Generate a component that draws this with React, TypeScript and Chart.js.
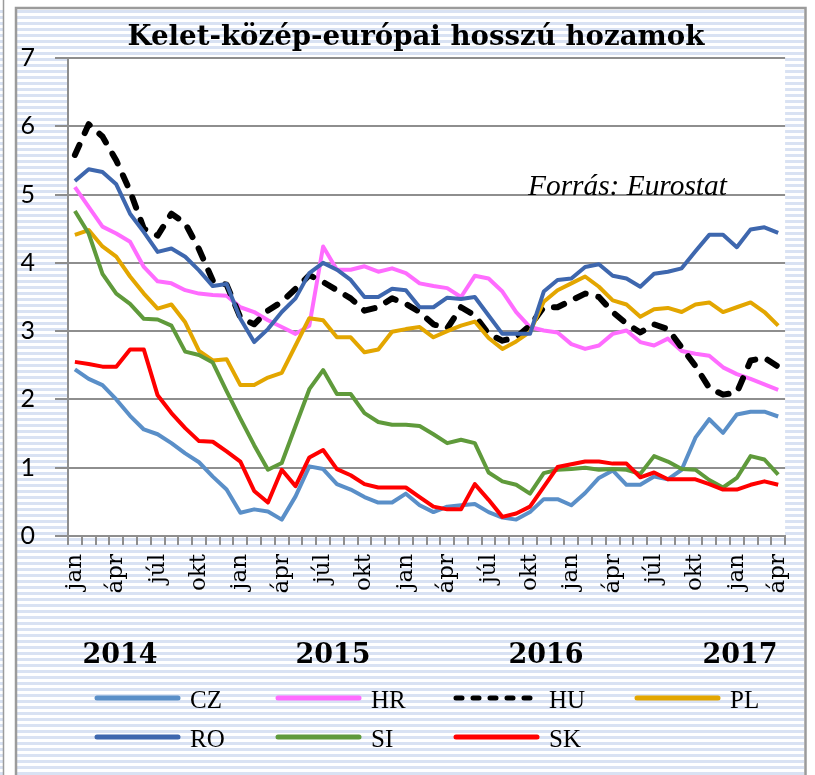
import React, { useEffect, useRef } from "react";
import { Chart, registerables } from "chart.js";

Chart.register(...registerables);

// ---------- data ----------
const monthNames = ["jan", "febr", "márc", "ápr", "máj", "jún", "júl", "aug", "szept", "okt", "nov", "dec"];
const monthCount = 52; // 2014 jan .. 2018 ápr
const categories: string[] = [];
for (let i = 0; i < monthCount; i++) categories.push(monthNames[i % 12]);

const yearLabels = ["2014", "2015", "2016", "2017"];
const yTicks = [0, 1, 2, 3, 4, 5, 6, 7];

const CZ = [2.44, 2.30, 2.21, 2.00, 1.76, 1.56, 1.49, 1.36, 1.21, 1.08, 0.87, 0.68,
  0.34, 0.39, 0.36, 0.24, 0.58, 1.02, 0.98, 0.76, 0.68, 0.57, 0.49, 0.49,
  0.62, 0.45, 0.35, 0.43, 0.45, 0.47, 0.35, 0.27, 0.24, 0.35, 0.54, 0.54,
  0.45, 0.63, 0.85, 0.96, 0.75, 0.75, 0.87, 0.83, 0.97, 1.44, 1.71, 1.51,
  1.78, 1.82, 1.82, 1.75];
const HR = [5.11, 4.82, 4.53, 4.43, 4.31, 3.94, 3.73, 3.70, 3.60, 3.55, 3.53, 3.52,
  3.35, 3.28, 3.16, 3.06, 2.96, 3.08, 4.24, 3.90, 3.90, 3.95, 3.87, 3.92,
  3.85, 3.70, 3.66, 3.63, 3.50, 3.81, 3.77, 3.58, 3.28, 3.06, 3.01, 2.98,
  2.81, 2.74, 2.79, 2.96, 3.01, 2.84, 2.79, 2.89, 2.71, 2.67, 2.64, 2.47,
  2.37, 2.30, 2.22, 2.14];
const HU = [5.58, 6.03, 5.85, 5.50, 5.05, 4.50, 4.40, 4.72, 4.58, 4.20, 3.74, 3.68,
  3.20, 3.10, 3.30, 3.43, 3.62, 3.82, 3.72, 3.60, 3.48, 3.30, 3.35, 3.48,
  3.40, 3.28, 3.10, 3.04, 3.35, 3.23, 2.96, 2.86, 2.91, 3.08, 3.35, 3.35,
  3.45, 3.55, 3.50, 3.28, 3.11, 2.98, 3.10, 3.03, 2.76, 2.49, 2.17, 2.07,
  2.10, 2.57, 2.61, 2.48];
const PL = [4.41, 4.48, 4.24, 4.09, 3.80, 3.55, 3.33, 3.39, 3.13, 2.71, 2.57, 2.59,
  2.21, 2.21, 2.32, 2.39, 2.79, 3.19, 3.16, 2.91, 2.91, 2.69, 2.73, 2.99,
  3.03, 3.06, 2.91, 3.00, 3.08, 3.14, 2.90, 2.74, 2.85, 2.99, 3.43, 3.60,
  3.70, 3.80, 3.65, 3.45, 3.39, 3.21, 3.32, 3.34, 3.28, 3.39, 3.42, 3.28,
  3.35, 3.42, 3.28, 3.08];
const RO = [5.20, 5.37, 5.33, 5.15, 4.72, 4.45, 4.16, 4.21, 4.09, 3.89, 3.66, 3.69,
  3.18, 2.84, 3.03, 3.28, 3.48, 3.85, 4.00, 3.90, 3.75, 3.50, 3.50, 3.62,
  3.60, 3.35, 3.35, 3.49, 3.47, 3.50, 3.23, 2.96, 2.96, 2.96, 3.58, 3.75,
  3.77, 3.94, 3.98, 3.81, 3.77, 3.65, 3.84, 3.87, 3.92, 4.17, 4.41, 4.41,
  4.23, 4.49, 4.52, 4.44];
const SI = [4.76, 4.43, 3.84, 3.55, 3.40, 3.18, 3.17, 3.08, 2.70, 2.65, 2.54, 2.12,
  1.72, 1.33, 0.97, 1.07, 1.61, 2.15, 2.43, 2.08, 2.08, 1.80, 1.67, 1.63,
  1.63, 1.61, 1.49, 1.36, 1.41, 1.36, 0.93, 0.80, 0.75, 0.62, 0.92, 0.97,
  0.98, 1.00, 0.97, 0.98, 0.97, 0.91, 1.17, 1.09, 0.98, 0.97, 0.82, 0.71,
  0.85, 1.17, 1.12, 0.90];
const SK = [2.55, 2.52, 2.48, 2.48, 2.73, 2.73, 2.06, 1.80, 1.58, 1.39, 1.38, 1.24,
  1.09, 0.66, 0.49, 0.97, 0.73, 1.15, 1.26, 0.98, 0.89, 0.76, 0.71, 0.71,
  0.71, 0.57, 0.43, 0.39, 0.39, 0.76, 0.53, 0.28, 0.33, 0.43, 0.72, 1.01,
  1.05, 1.09, 1.09, 1.06, 1.06, 0.86, 0.93, 0.83, 0.83, 0.83, 0.76, 0.68,
  0.68, 0.75, 0.80, 0.75];

const seriesNames = ["CZ", "HR", "HU", "PL", "RO", "SI", "SK"];
const seriesValues = [CZ, HR, HU, PL, RO, SI, SK];
const seriesColors = ["#5a8fc8", "#ff6cff", "#000000", "#e3a600", "#3e67ae", "#5f9a3b", "#ff0000"];

const titleText = "Kelet-közép-európai hosszú hozamok";
const sourceText = "Forrás: Eurostat";

// ---------- drawing helpers ----------
const GRID = "#8e8e8e";
const STRIPE = "#d9e2f3";
const FRAME = "#9b9b9b";

function fitFont(ctx: CanvasRenderingContext2D, text: string, style: string, family: string, width: number) {
  ctx.font = `${style} 100px ${family}`;
  const w = ctx.measureText(text).width;
  return (100 * width) / w;
}

const decorPlugin = {
  id: "decor",
  beforeDraw(chart: any) {
    const ctx: CanvasRenderingContext2D = chart.ctx;
    const W = chart.width;
    const H = chart.height;
    ctx.save();
    ctx.fillStyle = "#ffffff";
    ctx.fillRect(0, 0, W, H);
    ctx.fillStyle = STRIPE;
    for (let y = 10; y < H; y += 6) {
      ctx.fillRect(17, y, 787, 3);
      ctx.fillRect(0, y, 3, 3);
    }
    const a = chart.chartArea;
    ctx.fillStyle = "#ffffff";
    ctx.fillRect(a.left, a.top, a.right - a.left, a.bottom - a.top);
    ctx.strokeStyle = FRAME;
    ctx.lineWidth = 2.5;
    ctx.beginPath();
    ctx.moveTo(16, H);
    ctx.lineTo(16, 8);
    ctx.lineTo(805.5, 8);
    ctx.lineTo(805.5, H);
    ctx.stroke();
    ctx.lineWidth = 1.5;
    ctx.beginPath();
    ctx.moveTo(3.5, 0);
    ctx.lineTo(3.5, H);
    ctx.stroke();
    ctx.restore();
  },
  afterDraw(chart: any) {
    const ctx: CanvasRenderingContext2D = chart.ctx;
    ctx.save();
    // title
    const tSize = fitFont(ctx, titleText, "bold", '"DejaVu Serif"', 577);
    ctx.font = `bold ${tSize}px "DejaVu Serif"`;
    ctx.fillStyle = "#000";
    ctx.textAlign = "center";
    ctx.textBaseline = "alphabetic";
    ctx.fillText(titleText, 416, 45);
    // source
    const sSize = fitFont(ctx, sourceText, "italic", '"Liberation Serif"', 199);
    ctx.font = `italic ${sSize}px "Liberation Serif"`;
    ctx.textAlign = "left";
    ctx.fillText(sourceText, 528, 195);
    // years
    const yearCenters = [120, 333, 546, 740];
    ctx.font = 'bold 27px "DejaVu Serif"';
    ctx.textAlign = "center";
    yearLabels.forEach((t, i) => ctx.fillText(t, yearCenters[i], 663));
    // legend
    const cols = [94, 275, 453, 634];
    const rows = [698, 737];
    chart.data.datasets.forEach((ds: any, i: number) => {
      const x0 = cols[i % 4];
      const y = rows[Math.floor(i / 4)];
      ctx.strokeStyle = ds.borderColor;
      ctx.lineWidth = 5;
      ctx.lineCap = "round";
      ctx.setLineDash(ds.borderDash && ds.borderDash.length ? [6, 11] : []);
      ctx.beginPath();
      ctx.moveTo(x0 + 3, y);
      ctx.lineTo(x0 + 84, y);
      ctx.stroke();
      ctx.setLineDash([]);
      ctx.fillStyle = "#000";
      ctx.font = '25px "Liberation Serif"';
      ctx.textAlign = "left";
      ctx.fillText(ds.label, x0 + 96, y + 10);
    });
    ctx.restore();
  },
};

export default function App() {
  const ref = useRef<HTMLCanvasElement | null>(null);
  useEffect(() => {
    if (!ref.current) return;
    const datasets = seriesNames.map((name, i) => ({
      label: name,
      data: seriesValues[i],
      borderColor: seriesColors[i],
      backgroundColor: seriesColors[i],
      borderWidth: name === "HU" ? 6 : 4,
      borderDash: name === "HU" ? [11, 13] : [],
      borderCapStyle: name === "HU" ? "round" : "butt",
      borderJoinStyle: "round",
      pointRadius: 0,
      tension: 0,
      fill: false,
      order: seriesNames.length - i,
    }));
    const chart = new Chart(ref.current, {
      type: "line",
      data: { labels: categories, datasets: datasets as any },
      plugins: [decorPlugin as any],
      options: {
        animation: false,
        responsive: false,
        devicePixelRatio: 1,
        events: [],
        layout: { padding: { left: 16, right: 22, top: 58, bottom: 0 } },
        plugins: {
          legend: { display: false },
          title: { display: false },
          tooltip: { enabled: false },
        },
        scales: {
          x: {
            type: "category",
            offset: true,
            grid: {
              display: true,
              drawOnChartArea: false,
              drawTicks: true,
              tickLength: 9,
              color: GRID,
              lineWidth: 2,
              offset: true,
            },
            border: { display: true, color: GRID, width: 2 },
            ticks: {
              autoSkip: false,
              minRotation: 90,
              maxRotation: 90,
              padding: 9,
              color: "#000",
              font: { family: '"DejaVu Serif"', size: 23 },
              callback: (_v: any, idx: number) => (idx % 3 === 0 ? categories[idx] : ""),
            },
            afterFit: (s: any) => {
              s.height = 239;
            },
          },
          y: {
            min: yTicks[0],
            max: yTicks[yTicks.length - 1],
            grid: { color: GRID, lineWidth: 2, tickLength: 13, drawTicks: true },
            border: { display: true, color: GRID, width: 2 },
            ticks: {
              stepSize: 1,
              padding: 20,
              color: "#000",
              font: { family: "Lato", size: 25 },
            },
            afterFit: (s: any) => {
              s.width = 52;
            },
          },
        },
      },
    });
    return () => chart.destroy();
  }, []);
  return (
    <canvas
      ref={ref}
      width={815}
      height={775}
      style={{ position: "absolute", left: 0, top: 0, width: 815, height: 775, display: "block" }}
    />
  );
}
